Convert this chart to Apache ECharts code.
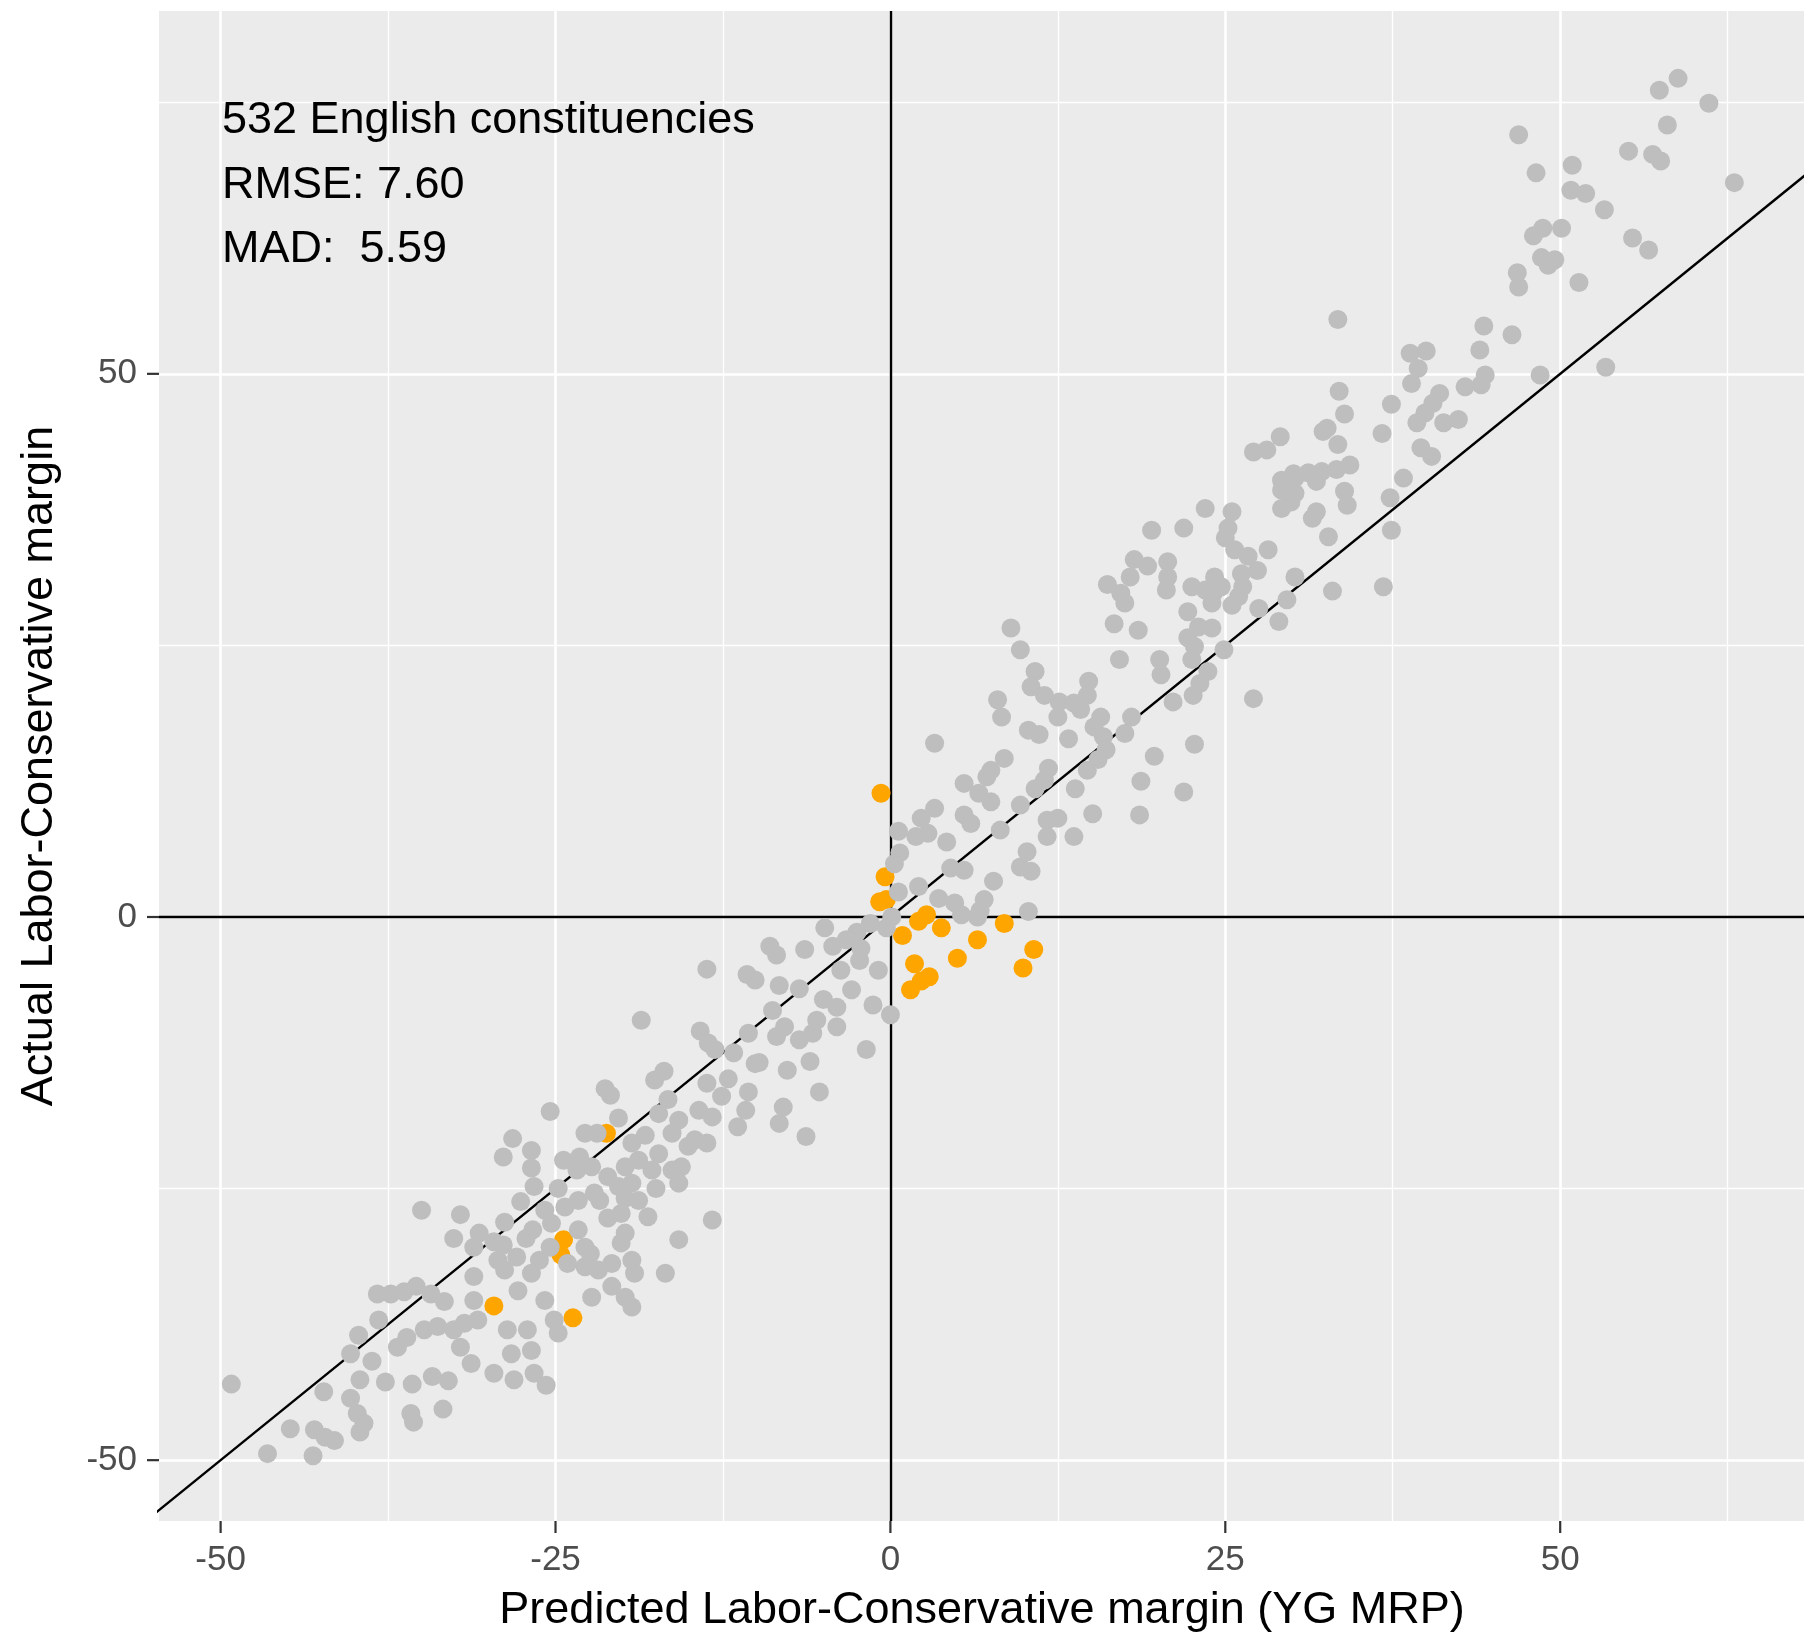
<!DOCTYPE html>
<html>
<head>
<meta charset="utf-8">
<title>Predicted vs actual Labor-Conservative margin</title>
<script src="https://cdn.jsdelivr.net/npm/echarts@6/dist/echarts.min.js"></script>
<style>
  html, body { margin: 0; padding: 0; background: #fff; }
  #chart { width: 1804px; height: 1641px; }
</style>
</head>
<body>
<div id="chart"></div>
<script>
// [predicted, actual] margins
const grayPoints = [
  // lower-left tail
  [-35.0,-27.0],[-32.1,-27.4],[-32.6,-29.6],[-28.8,-28.1],[-27.6,-26.2],[-26.6,-24.8],[-24.8,-25.0],[-25.8,-27.0],
  [-30.7,-29.1],[-29.6,-29.9],[-31.1,-30.4],[-27.2,-29.6],[-25.3,-28.2],[-24.1,-31.9],[-29.3,-31.6],[-31.1,-33.1],
  [-28.8,-32.5],[-26.8,-32.8],[-27.8,-34.4],[-25.8,-35.3],[-31.1,-35.3],[-38.3,-34.7],[-37.3,-34.7],[-36.3,-34.5],
  [-35.4,-34.0],[-34.3,-34.7],[-33.3,-35.4],[-38.2,-37.1],[-39.7,-38.5],[-40.3,-40.2],[-38.7,-40.9],[-36.8,-39.6],
  [-36.1,-38.7],[-34.8,-38.0],[-33.8,-37.7],[-32.6,-38.0],[-31.8,-37.4],[-30.8,-37.1],[-32.1,-39.6],[-31.3,-41.1],
  [-28.6,-38.0],[-27.1,-38.0],[-28.3,-40.2],[-29.6,-42.0],[-28.1,-42.6],[-26.8,-39.9],[-26.6,-42.0],[-25.7,-43.1],
  [-25.1,-37.1],[-24.8,-38.3],[-49.2,-43.0],[-42.3,-43.7],[-39.6,-42.6],[-37.7,-42.8],[-35.7,-43.0],[-34.2,-42.3],
  [-33.0,-42.7],[-40.3,-44.3],[-39.8,-45.7],[-39.3,-46.6],[-39.6,-47.4],[-35.8,-45.7],[-35.6,-46.5],[-33.4,-45.3],
  [-44.8,-47.1],[-43.0,-47.2],[-42.2,-47.9],[-41.5,-48.2],[-46.5,-49.4],[-43.1,-49.6],
  [-26.7,-28.8],[-28.9,-30.2],[-26.2,-31.6],[-25.4,-30.4],[-22.4,-31.0],[-27.9,-31.3],[-21.7,-26.1],[-19.8,-25.9],
  [-24.3,-26.7],[-17.5,-25.0],
  // -30 .. -10
  [-18.6,-9.5],[-14.2,-10.5],[-13.6,-11.6],[-13.1,-12.2],[-11.7,-12.5],[-10.6,-10.7],[-10.1,-13.5],[-16.9,-14.2],
  [-17.6,-15.0],[-21.3,-15.8],[-20.9,-16.4],[-16.6,-16.8],[-13.7,-15.3],[-12.1,-14.9],[-12.6,-16.5],[-10.6,-16.1],
  [-10.8,-17.8],[-11.4,-19.3],[-13.3,-18.4],[-14.3,-17.8],[-17.3,-18.1],[-15.8,-18.7],[-16.3,-19.9],[-25.4,-17.9],
  [-20.3,-18.5],[-22.8,-19.9],[-21.9,-19.9],[-18.3,-20.1],[-19.3,-20.8],[-14.6,-20.5],[-13.7,-20.8],[-15.1,-21.1],
  [-28.2,-20.4],[-26.8,-21.5],[-28.9,-22.1],[-26.8,-23.1],[-24.4,-22.4],[-23.2,-22.1],[-23.4,-23.3],[-22.3,-23.0],
  [-21.1,-23.9],[-19.8,-23.0],[-18.8,-22.4],[-17.3,-21.8],[-17.8,-23.3],[-16.3,-23.3],[-15.6,-23.0],[-15.8,-24.5],
  [-23.3,-26.1],[-22.1,-25.4],[-20.3,-24.8],[-19.3,-24.5],[-18.8,-26.1],[-18.1,-27.6],[-21.1,-27.7],[-20.1,-27.3],
  [-19.8,-29.1],[-20.1,-30.0],[-13.3,-27.9],[-15.8,-29.7],[-16.8,-32.8],[-23.3,-28.8],[-22.8,-30.4],[-22.8,-32.2],
  [-21.8,-32.5],[-20.8,-31.9],[-19.3,-31.6],[-19.1,-32.8],[-22.3,-35.0],[-20.8,-34.0],[-19.8,-35.0],[-19.3,-35.9],
  // -14 .. -5
  [-9.0,-2.7],[-8.5,-3.5],[-13.7,-4.8],[-10.7,-5.3],[-10.1,-5.8],[-8.3,-6.3],[-8.8,-8.6],[-8.5,-11.0],
  [-9.8,-13.4],[-7.7,-14.1],[-5.3,-16.1],[-8.0,-17.5],[-8.3,-19.0],[-6.3,-20.2],
  // around the origin
  [0.6,7.9],[1.9,7.4],[2.8,7.7],[4.2,6.9],[0.7,5.9],[0.3,4.9],[0.6,2.3],[2.1,2.8],[4.5,4.5],[5.5,4.3],
  [3.6,1.7],[4.8,1.3],[5.3,0.2],[6.7,0.6],[7.0,1.6],[7.7,3.3],[6.5,0.0],[9.7,4.6],[10.5,4.2],[10.2,6.0],
  [10.3,0.5],[0.1,0.0],[-0.3,-1.0],[-1.5,-0.6],[-2.5,-1.4],[-3.3,-2.1],[-4.9,-1.0],[-4.3,-2.7],[-6.4,-3.0],
  [-2.2,-2.9],[-2.3,-4.0],[-3.7,-4.9],[-0.9,-4.9],[-6.8,-6.6],[-2.9,-6.7],[-5.0,-7.6],[-4.0,-8.3],[-1.3,-8.1],
  [0.0,-9.0],[-5.5,-9.5],[-4.0,-10.1],[-6.8,-11.3],[-5.8,-10.7],[-7.9,-10.1],[-1.8,-12.2],[-6.0,-13.3],
  [13.7,7.4],[11.7,7.4],
  // 3 .. 28
  [9.0,26.6],[9.7,24.6],[10.8,22.6],[10.5,21.2],[11.5,20.4],[12.6,19.8],[12.5,18.4],[13.7,19.7],[14.8,21.7],
  [14.7,20.4],[14.2,19.1],[15.7,18.4],[15.2,17.5],[15.9,16.6],[16.1,15.4],[15.5,14.5],[14.7,13.5],[13.8,11.8],
  [11.8,13.7],[11.5,12.6],[10.8,11.8],[9.7,10.3],[8.2,8.0],[8.0,20.0],[8.3,18.4],[10.3,17.2],[11.1,16.8],
  [13.3,16.4],[3.3,16.0],[8.5,14.6],[7.5,13.5],[7.2,12.9],[5.5,12.3],[6.6,11.4],[7.5,10.6],[3.3,10.0],
  [5.5,9.4],[6.0,8.6],[2.3,9.1],[17.1,23.7],[16.7,27.0],[17.5,28.9],[17.2,29.8],[16.2,30.6],[18.5,26.4],
  [20.1,23.7],[20.2,22.3],[21.1,19.8],[18.0,18.4],[17.5,16.9],[19.7,14.8],[22.7,15.9],[18.7,12.5],[21.9,11.5],
  [18.6,9.4],[15.1,9.5],[11.7,8.9],[12.5,9.1],[20.6,30.1],[22.5,30.4],[22.2,28.1],[23.0,26.7],[24.0,26.6],
  [22.2,25.7],[22.7,24.9],[24.9,24.6],[22.5,23.7],[23.7,22.6],[23.1,21.5],[22.6,20.4],[27.1,20.1],[23.5,30.1],
  [24.7,30.4],[26.0,29.5],[27.5,28.4],[24.0,28.9],[25.5,28.7],[26.3,30.4],[24.1,29.8],
  // 17 .. 40
  [27.1,42.8],[28.1,43.0],[33.4,43.5],[39.6,43.2],[34.3,41.6],[33.3,41.2],[32.2,41.0],[31.2,40.9],[30.2,40.4],
  [29.2,40.2],[29.2,39.3],[30.2,39.0],[31.8,40.1],[29.2,37.6],[29.9,38.2],[31.8,37.3],[31.5,36.7],[33.9,39.2],
  [34.1,37.9],[32.7,35.0],[38.3,40.4],[37.3,38.6],[37.4,35.6],[36.8,30.4],[33.0,30.0],[30.2,31.3],[29.6,29.2],
  [29.0,27.2],[28.2,33.8],[23.5,37.6],[25.5,37.3],[21.9,35.8],[19.5,35.6],[25.2,35.8],[25.0,34.9],[25.7,33.8],
  [26.7,33.2],[27.4,31.9],[26.2,31.6],[18.2,32.9],[19.2,32.3],[17.9,31.3],[20.7,32.7],[20.7,31.3],[24.2,31.3],
  [32.3,44.7],[30.1,40.8],
  // 29 .. 51
  [33.4,55.0],[38.8,51.9],[40.0,52.1],[39.4,50.5],[38.9,49.1],[44.3,54.4],[46.4,53.6],[44.0,52.2],[44.4,49.9],
  [44.1,49.0],[42.9,48.8],[48.5,49.9],[37.4,47.2],[41.0,48.2],[40.5,47.3],[39.9,46.4],[39.3,45.5],[41.3,45.5],
  [42.4,45.8],[36.7,44.5],[33.5,48.4],[33.9,46.3],[32.6,45.0],[29.1,44.2],[40.4,42.4],[46.9,58.0],[51.4,58.4],
  // upper-right tail
  [58.8,77.2],[57.4,76.1],[61.1,74.9],[58.0,72.9],[55.1,70.5],[56.9,70.2],[57.5,69.6],[63.0,67.6],[46.9,72.0],
  [48.2,68.5],[50.9,69.2],[50.8,66.9],[51.9,66.6],[53.3,65.1],[48.7,63.4],[48.0,62.7],[50.1,63.4],[48.6,60.7],
  [49.6,60.5],[49.1,60.0],[55.4,62.5],[56.6,61.4],[46.8,59.3],[53.4,50.6]
];

const orangePoints = [
  [-21.2,-19.9],[-24.4,-29.7],[-24.6,-31.1],[-29.6,-35.8],[-23.7,-36.9],
  [-0.7,11.4],[-0.4,3.7],[-0.8,1.4],[-0.3,1.6],[0.9,-1.7],[2.1,-0.4],[2.7,0.2],[3.8,-1.0],[6.5,-2.1],
  [8.5,-0.6],[10.7,-3.0],[9.9,-4.7],[5.0,-3.8],[1.8,-4.3],[2.9,-5.5],[2.3,-5.9],[1.5,-6.7]
];

const refLine = [[-60, -60], [75, 75]]; // y = x
const xTicks = [-50, -25, 0, 25, 50];
const xMinor = [-37.5, -12.5, 12.5, 37.5, 62.5];
const yTicks = [-50, 0, 50];
const yMinor = [-25, 25, 75];
const noteLines = ['532 English constituencies', 'RMSE: 7.60', 'MAD:  5.59'];

const FONT = '"Liberation Sans", Arial, Helvetica, sans-serif';
const TICK_LEN = 12;

// white panel grid lines (minor thinner than major)
const gridLines = [];
xMinor.forEach(v => gridLines.push({ xAxis: v, lineStyle: { width: 1.3 } }));
yMinor.forEach(v => gridLines.push({ yAxis: v, lineStyle: { width: 1.3 } }));
xTicks.forEach(v => gridLines.push({ xAxis: v, lineStyle: { width: 2.6 } }));
yTicks.forEach(v => gridLines.push({ yAxis: v, lineStyle: { width: 2.6 } }));

// outside tick marks, placed through the axis scales
function xTickItem(params, api) {
  const cs = params.coordSys;
  const p = api.coord([api.value(0), 0]);
  const y0 = cs.y + cs.height;
  return { type: 'line', shape: { x1: p[0], y1: y0, x2: p[0], y2: y0 + TICK_LEN },
           style: { stroke: '#333333', lineWidth: 2.2 } };
}
function yTickItem(params, api) {
  const cs = params.coordSys;
  const p = api.coord([0, api.value(1)]);
  return { type: 'line', shape: { x1: cs.x - TICK_LEN, y1: p[1], x2: cs.x, y2: p[1] },
           style: { stroke: '#333333', lineWidth: 2.2 } };
}

const chart = echarts.init(document.getElementById('chart'));

const axisCommon = {
  type: 'value',
  splitLine: { show: false },
  axisTick: { show: false },
  axisLine: { show: false, onZero: false }
};

const option = {
  animation: false,
  backgroundColor: '#ffffff',
  grid: {
    left: 159, right: 0, top: 11, bottom: 120,
    show: true, backgroundColor: '#EBEBEB', borderWidth: 0
  },
  xAxis: Object.assign({}, axisCommon, {
    min: -54.6, max: 68.2,
    axisLabel: { customValues: xTicks, margin: 22, color: '#4D4D4D', fontSize: 35, fontFamily: FONT }
  }),
  yAxis: Object.assign({}, axisCommon, {
    min: -55.6, max: 83.4,
    axisLabel: { customValues: yTicks, margin: 22, color: '#4D4D4D', fontSize: 35, fontFamily: FONT }
  }),
  series: [
    {
      // diagonal y = x, with the panel grid hung on it
      type: 'line',
      data: refLine,
      showSymbol: false,
      symbol: 'none',
      clip: true,
      z: 1,
      lineStyle: { color: '#000', width: 2.4 },
      silent: true,
      markLine: {
        silent: true,
        z: 0,
        symbol: ['none', 'none'],
        label: { show: false },
        lineStyle: { color: '#ffffff', type: 'solid' },
        emphasis: { disabled: true },
        data: gridLines
      }
    },
    {
      name: 'flipped',
      type: 'scatter',
      data: orangePoints,
      symbol: 'circle',
      symbolSize: 19,
      z: 2,
      itemStyle: { color: '#FFA500', opacity: 1 },
      markLine: {
        silent: true,
        z: 1,
        symbol: ['none', 'none'],
        label: { show: false },
        lineStyle: { color: '#000', width: 2.4, type: 'solid' },
        emphasis: { disabled: true },
        data: [{ xAxis: 0 }, { yAxis: 0 }]
      }
    },
    {
      name: 'other',
      type: 'scatter',
      data: grayPoints,
      symbol: 'circle',
      symbolSize: 19,
      z: 3,
      itemStyle: { color: '#BEBEBE', opacity: 1 }
    },
    {
      type: 'custom',
      data: xTicks.map(v => [v, 0]),
      encode: { x: 0, y: 1 },
      clip: false,
      silent: true,
      z: 5,
      renderItem: xTickItem
    },
    {
      type: 'custom',
      data: yTicks.map(v => [0, v]),
      encode: { x: 0, y: 1 },
      clip: false,
      silent: true,
      z: 5,
      renderItem: yTickItem
    }
  ],
  graphic: [
    ...noteLines.map((t, i) => ({
      type: 'text',
      z: 20,
      x: 222, y: 121 + i * 64.5,
      style: { text: t, font: '45px ' + FONT, fill: '#000', textAlign: 'left', textVerticalAlign: 'middle' }
    })),
    {
      type: 'text', z: 20, x: 982, y: 1611,
      style: { text: 'Predicted Labor-Conservative margin (YG MRP)', font: '45px ' + FONT, fill: '#000',
               textAlign: 'center', textVerticalAlign: 'middle' }
    },
    {
      type: 'text', z: 20, x: 40, y: 766, rotation: Math.PI / 2,
      style: { text: 'Actual Labor-Conservative margin', font: '45px ' + FONT, fill: '#000',
               textAlign: 'center', textVerticalAlign: 'middle' }
    }
  ]
};

chart.setOption(option);
window.addEventListener('resize', () => chart.resize());
</script>
</body>
</html>
